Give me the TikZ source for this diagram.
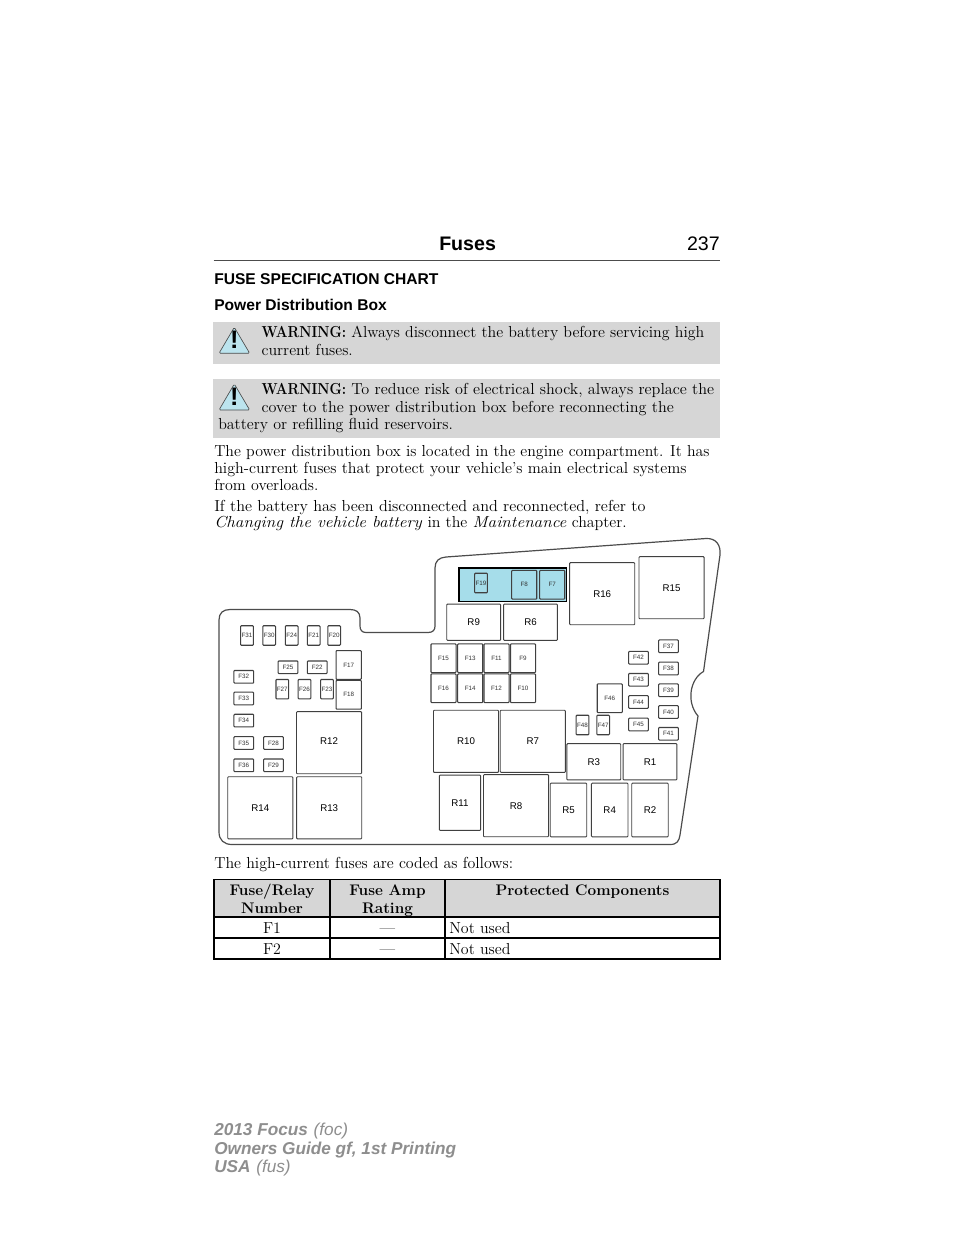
\documentclass[tikz,border=0pt]{standalone}
\usepackage{fontspec}
\usepackage{amsmath}
\usepackage{tikz}
\newfontfamily\labelfont{Liberation Sans}
\definecolor{panelgray}{HTML}{D6D6D6}
\definecolor{fuseblue}{HTML}{A6DDEA}
\definecolor{warnblue}{HTML}{BCE4EE}
\definecolor{footgray}{HTML}{8E8E8E}
\newcommand{\warnword}{\scalebox{0.87}[1]{\textbf{WARNING:}}}
\newcommand{\wideital}[1]{\scalebox{1.08}[1]{\textit{#1}}}
\tikzset{
	page/.style={anchor=base west,inner sep=0,font=\fontsize{11.95}{14}\selectfont},
	tabletext/.style={anchor=base,inner sep=0,font=\bfseries\fontsize{11.5}{14}\selectfont},
	headline/.style={anchor=base west,inner sep=0,font=\labelfont\bfseries\fontsize{11.7}{14}\selectfont},
	foot/.style={anchor=base west,inner sep=0,text=footgray,font=\labelfont\itshape\fontsize{12.9}{15}\selectfont},
	panel/.style={shape=rectangle,fill=panelgray,inner sep=0},
	box/.style={shape=rectangle,draw=black!75,line width=0.8pt,rounded corners=0.6pt,inner sep=0,text=black!80,font=\labelfont\fontsize{4.7}{5}\selectfont},
	fuseup/.style={box,minimum width=9.5pt,minimum height=14.6pt},
	fuseflat/.style={box,minimum width=14.8pt,minimum height=9.5pt},
	fusemid/.style={box,minimum width=18.8pt,minimum height=21.6pt},
	relay/.style={box,line width=0.7pt,minimum width=48.8pt,minimum height=46.6pt,text=black,font=\labelfont\fontsize{7.3}{8}\selectfont},
	relayflat/.style={relay,minimum width=40.4pt,minimum height=27.2pt},
	relayup/.style={relay,minimum width=27.4pt,minimum height=40.2pt},
	cell/.style={shape=rectangle,draw=black,line width=1.1pt,inner sep=0,font=\fontsize{11.95}{14}\selectfont},
	rowcell/.style={cell,text height=9.3pt,text depth=0pt,minimum height=15.75pt},
	warnsign/.style={draw=black!70,line width=0.5pt,fill=warnblue,line join=round,rounded corners=1pt},
	warnmark/.style={inner sep=0,font=\labelfont\bfseries\fontsize{19}{19}\selectfont}
}
\begin{document}
\begin{tikzpicture}[x=0.75pt,y=-0.75pt]

	\useasboundingbox[fill=white] (0,0) rectangle (960,1242);

	% running head
	\node[anchor=base west,inner sep=0,font=\labelfont\bfseries\fontsize{14.7}{16}\selectfont] (head) at (439,250.7) {Fuses};
	\node[anchor=base east,inner sep=0,font=\labelfont\fontsize{14.7}{16}\selectfont] (pagenum) at (720,250.7) {237};
	\coordinate (ruleleft) at (213.5,260.7);
	\coordinate (ruleright) at (720,260.7);
	\draw[line width=0.9pt,black!70] (ruleleft) -- (ruleright);

	\node[headline] (title) at (214,284.3) {FUSE SPECIFICATION CHART};
	\node[headline] (subtitle) at (214,310) {Power Distribution Box};

	% warnings
	\node[panel,minimum width=380.25pt,minimum height=31.7pt] (warnone) at (466.5,342.85) {};
	\node[panel,minimum width=380.25pt,minimum height=44.5pt] (warntwo) at (466.5,408.65) {};

	\draw[warnsign] (234.3,327.3) -- (249.7,353.3) -- (219,353.3) -- cycle;
	\node[warnmark] (markone) at (234.3,340) {!};
	\draw[warnsign] (234.3,384) -- (249.7,410) -- (219,410) -- cycle;
	\node[warnmark] (marktwo) at (234.3,396.7) {!};

	\node[page] (w1) at (261.3,337.3) {\warnword\ Always disconnect the battery before servicing high};
	\node[page] (w2) at (261.3,355) {current fuses.};
	\node[page] (w3) at (261.3,394) {\warnword\ \scalebox{1.014}[1]{To reduce risk of electrical shock, always replace the}};
	\node[page] (w4) at (261.3,412.3) {\scalebox{1.015}[1]{cover to the power distribution box before reconnecting the}};
	\node[page] (w5) at (218,429) {battery or refilling fluid reservoirs.};

	\node[page] (p1) at (214,456.7) {\scalebox{0.996}[1]{The power distribution box is located in the engine compartment. It has}};
	\node[page] (p2) at (214,473.3) {\scalebox{1.007}[1]{high-current fuses that protect your vehicle's main electrical systems}};
	\node[page] (p3) at (214,490) {from overloads.};
	\node[page] (p4) at (214,511.7) {\scalebox{1.016}[1]{If the battery has been disconnected and reconnected, refer to}};
	\node[page] (p5) at (214,527.7) {\wideital{Changing the vehicle battery} in the \wideital{Maintenance} chapter.};

	% box outline
	\draw[line width=0.9pt,black!70,fill=white] (219,620) .. controls (219,613) and (223,609.5) .. (230,609.5)
		-- (350,609.5) .. controls (356,609.5) and (360,612) .. (360,618)
		-- (360,626) .. controls (360,630) and (362,632.5) .. (366,632.5)
		-- (428,632.5) .. controls (433,632.5) and (435,630) .. (435,626)
		-- (435,568) .. controls (435,561) and (439,557.5) .. (446,557)
		-- (706,538.5) .. controls (716,538) and (721,545) .. (720,555)
		-- (703.5,671.5) .. controls (690,679) and (686,702) .. (698,716)
		-- (680,835) .. controls (679,841) and (677,844.5) .. (670,844.5)
		-- (232,844.5) .. controls (224,844.5) and (219,840) .. (219,832)
		-- cycle;

	% left block
	\node[fuseup] (f31) at (247,635.5) {F31};
	\node[fuseup] (f30) at (269.2,635.5) {F30};
	\node[fuseup] (f24) at (291.7,635.5) {F24};
	\node[fuseup] (f21) at (313.7,635.5) {F21};
	\node[fuseup] (f20) at (334.2,635.5) {F20};

	\node[fuseflat] (f25) at (288,667.3) {F25};
	\node[fuseflat] (f22) at (317.2,667.3) {F22};
	\node[fusemid,minimum width=19pt] (f17) at (348.7,665) {F17};
	\node[fusemid,minimum width=19pt] (f18) at (348.7,694.8) {F18};

	\node[fuseup] (f27) at (282.3,689.2) {F27};
	\node[fuseup] (f26) at (304.5,689.2) {F26};
	\node[fuseup] (f23) at (327,689.2) {F23};

	\node[fuseflat] (f32) at (243.8,676.8) {F32};
	\node[fuseflat] (f33) at (243.8,698.5) {F33};
	\node[fuseflat] (f34) at (243.8,720.6) {F34};
	\node[fuseflat] (f35) at (243.8,743) {F35};
	\node[fuseflat] (f36) at (243.8,765.3) {F36};
	\node[fuseflat] (f28) at (273.5,743) {F28};
	\node[fuseflat] (f29) at (273.5,765.3) {F29};

	\node[relay] (r12) at (329,742.7) {\raisebox{2.5pt}{R12}};
	\node[relay] (r14) at (260.3,807.8) {R14};
	\node[relay] (r13) at (329.2,807.8) {R13};

	% blue block
	\node[shape=rectangle,draw=black,line width=1.4pt,fill=fuseblue,minimum width=80.6pt,minimum height=25pt,inner sep=0] (bluebox) at (512.8,584.8) {};
	\node[fuseup] (f19) at (481,583) {F19};
	\node[fusemid] (f8) at (524.2,584.8) {F8};
	\node[fusemid] (f7) at (552.2,584.8) {F7};

	% middle block
	\node[relay] (r16) at (602.2,593.7) {R16};
	\node[relay] (r15) at (671.5,587.7) {R15};
	\node[relayflat] (r9) at (473.7,622.2) {R9};
	\node[relayflat] (r6) at (530.5,622.2) {R6};

	\node[fusemid] (f15) at (443.5,658.3) {F15};
	\node[fusemid] (f13) at (470.2,658.3) {F13};
	\node[fusemid] (f11) at (496.5,658.3) {F11};
	\node[fusemid] (f9) at (523,658.3) {F9};
	\node[fusemid] (f16) at (443.5,688.3) {F16};
	\node[fusemid] (f14) at (470.2,688.3) {F14};
	\node[fusemid] (f12) at (496.5,688.3) {F12};
	\node[fusemid] (f10) at (523,688.3) {F10};

	\node[relay] (r10) at (466,741.3) {R10};
	\node[relay] (r7) at (532.8,741.3) {R7};
	\node[relay,minimum width=31pt,minimum height=41.4pt] (r11) at (460,802.7) {\raisebox{-1.5pt}{R11}};
	\node[relay] (r8) at (516,805.7) {R8};
	\node[relayup] (r5) at (568.5,810) {R5};
	\node[relayup] (r4) at (609.7,810) {R4};
	\node[relayup] (r2) at (650,810) {R2};
	\node[relayflat] (r3) at (593.8,761.8) {R3};
	\node[relayflat] (r1) at (650,761.8) {R1};

	% right block
	\node[fusemid] (f46) at (609.8,698.2) {F46};
	\node[fuseup] (f48) at (582.5,725) {F48};
	\node[fuseup] (f47) at (603.2,725) {F47};

	\node[fuseflat] (f42) at (638.5,657.7) {F42};
	\node[fuseflat] (f43) at (638.5,679.8) {F43};
	\node[fuseflat] (f44) at (638.5,702) {F44};
	\node[fuseflat] (f45) at (638.5,724.5) {F45};

	\node[fuseflat] (f37) at (668.5,646.2) {F37};
	\node[fuseflat] (f38) at (668.5,668.5) {F38};
	\node[fuseflat] (f39) at (668.5,690.2) {F39};
	\node[fuseflat] (f40) at (668.5,712) {F40};
	\node[fuseflat] (f41) at (668.5,733.8) {F41};

	% table
	\node[page] (tablecap) at (214,868.3) {The high-current fuses are coded as follows:};

	\node[cell,fill=panelgray,minimum width=87pt,minimum height=28pt] (headA) at (272,898) {};
	\node[cell,fill=panelgray,minimum width=86.25pt,minimum height=28pt] (headB) at (387.5,898) {};
	\node[cell,fill=panelgray,minimum width=206.25pt,minimum height=28pt] (headC) at (582.5,898) {};
	\node[tabletext] (headAone) at (272,895.7) {Fuse/Relay};
	\node[tabletext] (headAtwo) at (272,913.3) {Number};
	\node[tabletext] (headBone) at (387.5,895.7) {Fuse Amp};
	\node[tabletext] (headBtwo) at (387.5,913.3) {Rating};
	\node[tabletext] (headCone) at (582.5,895.7) {Protected Components};

	\node[rowcell,minimum width=87pt] (a1) at (272,927.5) {F1};
	\node[rowcell,minimum width=86.25pt] (b1) at (387.5,927.5) {---};
	\node[rowcell,minimum width=206.25pt] (c1) at (582.5,927.5) {};
	\node[page] (c1text) at (449,933.5) {Not used};
	\node[rowcell,minimum width=87pt] (a2) at (272,948.5) {F2};
	\node[rowcell,minimum width=86.25pt] (b2) at (387.5,948.5) {---};
	\node[rowcell,minimum width=206.25pt] (c2) at (582.5,948.5) {};
	\node[page] (c2text) at (449,954.5) {Not used};

	% imprint
	\node[foot] (foot1) at (214,1135) {\textbf{2013 Focus}\,\,(foc)};
	\node[foot] (foot2) at (214,1154) {\textbf{Owners Guide gf, 1st Printing}};
	\node[foot] (foot3) at (214,1172) {\textbf{USA}\,\,(fus)};

\end{tikzpicture}
\end{document}
